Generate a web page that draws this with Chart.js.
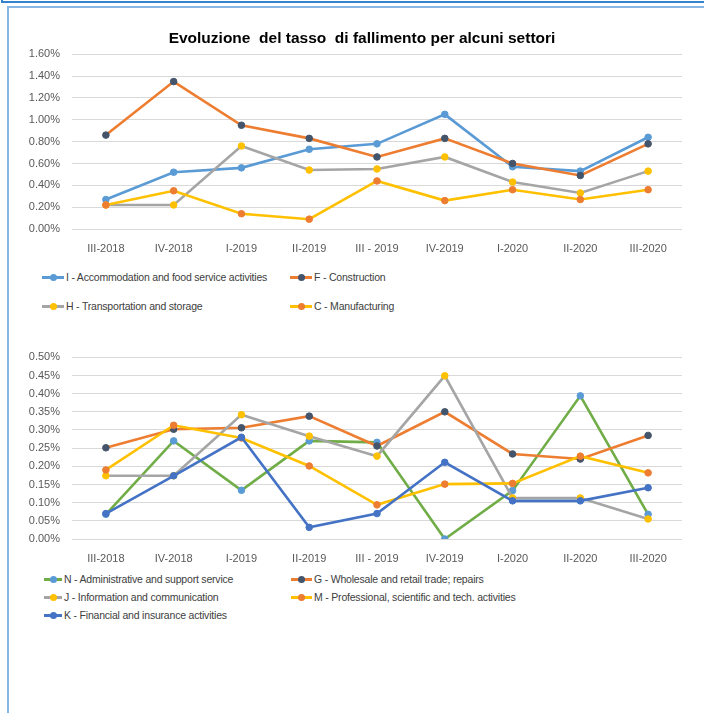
<!DOCTYPE html>
<html>
<head>
<meta charset="utf-8">
<script src="https://cdn.jsdelivr.net/npm/chart.js@4.4.1/dist/chart.umd.min.js"></script>
<style>
  body { margin: 0; width: 704px; height: 713px; overflow: hidden; position: relative; background: #fff;
         font-family: "Liberation Sans", Arial, sans-serif; }
  .outer { position: absolute; left: 1px; top: -20px; width: 800px; height: 21px;
           border-left: 2px solid #3583cc; border-bottom: 2px solid #3583cc; }
  .inner { position: absolute; left: 7px; top: 6px; width: 800px; height: 800px;
           border-left: 2px solid #86b6e3; border-top: 2px solid #86b6e3; }
  canvas { position: absolute; left: 0; }
  .title { position: absolute; left: 162px; width: 400px; top: 28px; text-align: center;
           font-size: 15.5px; font-weight: bold; color: #000; white-space: pre; line-height: 20px; }
  .legend { position: absolute; left: 0; top: 0; width: 704px; }
  .item { position: absolute; height: 14px; font-size: 10.5px; letter-spacing: -0.2px; color: #404040;
          white-space: nowrap; line-height: 14px; }
  .sw { position: absolute; left: 0; top: 6px; height: 3px; }
  .dot { position: absolute; top: 4px; width: 7px; height: 7px; border-radius: 50%; }
</style>
</head>
<body>
<div class="outer"></div>
<div class="inner"></div>
<canvas id="topChart" width="704" height="262" style="top:0"></canvas>
<canvas id="bottomChart" width="704" height="240" style="top:330px"></canvas>
<div class="title">Evoluzione  del tasso  di fallimento per alcuni settori</div>
<div class="legend" id="topLegend"></div>
<div class="legend" id="bottomLegend"></div>
<script>
// ---- data (percent values) ----
const quarters = ['III-2018', 'IV-2018', 'I-2019', 'II-2019', 'III - 2019', 'IV-2019', 'I-2020', 'II-2020', 'III-2020'];

const accommodation = [0.27, 0.52, 0.56, 0.73, 0.78, 1.05, 0.57, 0.53, 0.84];
const construction  = [0.86, 1.35, 0.95, 0.83, 0.66, 0.83, 0.60, 0.49, 0.78];
const transport     = [0.22, 0.22, 0.76, 0.54, 0.55, 0.66, 0.43, 0.33, 0.53];
const manufacturing = [0.22, 0.35, 0.14, 0.09, 0.44, 0.26, 0.36, 0.27, 0.36];

const administrative = [0.068, 0.270, 0.134, 0.270, 0.266, 0.000, 0.133, 0.394, 0.068];
const wholesale      = [0.251, 0.302, 0.306, 0.338, 0.256, 0.350, 0.234, 0.220, 0.285];
const information    = [0.174, 0.174, 0.342, 0.283, 0.228, 0.449, 0.113, 0.113, 0.055];
const professional   = [0.190, 0.313, 0.278, 0.201, 0.094, 0.151, 0.153, 0.228, 0.182];
const financial      = [0.070, 0.174, 0.280, 0.032, 0.070, 0.211, 0.105, 0.105, 0.141];

const FONT = '"Liberation Sans", Arial, sans-serif';

const topSeries = [
  { label: 'I - Accommodation and food service activities', data: accommodation, line: '#5b9bd5', mark: '#5b9bd5' },
  { label: 'F - Construction', data: construction, line: '#ed7d31', mark: '#44546a' },
  { label: 'H - Transportation and storage', data: transport, line: '#a5a5a5', mark: '#ffc000' },
  { label: 'C - Manufacturing', data: manufacturing, line: '#ffc000', mark: '#ed7d31' }
];

const bottomSeries = [
  { label: 'N - Administrative and support service', data: administrative, line: '#70ad47', mark: '#5b9bd5' },
  { label: 'G - Wholesale and retail trade; repairs', data: wholesale, line: '#ed7d31', mark: '#44546a' },
  { label: 'J - Information and communication', data: information, line: '#a5a5a5', mark: '#ffc000' },
  { label: 'M - Professional, scientific and tech. activities', data: professional, line: '#ffc000', mark: '#ed7d31' },
  { label: 'K - Financial and insurance activities', data: financial, line: '#4472c4', mark: '#4472c4' }
];

function makeChart(id, series, yMax, yStep, padTop, axisH) {
  const datasets = series.map((s, i) => ({
    label: s.label,
    data: s.data,
    borderColor: s.line,
    backgroundColor: s.mark,
    pointBackgroundColor: s.mark,
    pointBorderColor: s.mark,
    borderWidth: 2.6,
    pointRadius: 3.3,
    pointBorderWidth: 1,
    tension: 0,
    order: series.length - i   // later series on top, like the original
  }));

  return new Chart(document.getElementById(id), {
    type: 'line',
    data: { labels: quarters, datasets: datasets },
    options: {
      responsive: false,
      animation: false,
      devicePixelRatio: 1,
      layout: { autoPadding: false, padding: { left: 0, right: 22, top: padTop, bottom: 0 } },
      scales: {
        x: {
          offset: true,
          grid: { display: false },
          border: { display: false },
          ticks: { color: '#595959', font: { family: FONT, size: 11 }, padding: 5, maxRotation: 0, autoSkip: false },
          afterFit: s => { s.height = axisH; }
        },
        y: {
          min: 0,
          max: yMax,
          grid: { color: '#d9d9d9', drawTicks: false },
          border: { display: false },
          ticks: {
            stepSize: yStep,
            color: '#595959',
            padding: 12,
            font: { family: FONT, size: 11 },
            callback: v => v.toFixed(2) + '%'
          },
          afterFit: s => { s.width = 72; }
        }
      },
      plugins: {
        legend: { display: false },
        tooltip: { enabled: false },
        title: { display: false }
      }
    }
  });
}

makeChart('topChart', topSeries, 1.6, 0.2, 54.3, 33);
makeChart('bottomChart', bottomSeries, 0.5, 0.05, 27.3, 31);

// HTML legends laid out in two columns like the original
function buildLegend(boxId, series, spots) {
  const box = document.getElementById(boxId);
  series.forEach((s, i) => {
    const p = spots[i];
    const item = document.createElement('div');
    item.className = 'item';
    item.style.left = p.x + 'px';
    item.style.top = (p.y - 7) + 'px';
    item.style.paddingLeft = (p.w + 2) + 'px';
    item.innerHTML = '<span class="sw" style="width:' + p.w + 'px;background:' + s.line + '"></span>' +
      '<span class="dot" style="left:' + (p.w / 2 - 3.5) + 'px;background:' + s.mark + '"></span>' + s.label;
    box.appendChild(item);
  });
}

buildLegend('topLegend', topSeries, [
  { x: 42, y: 277, w: 22 }, { x: 290, y: 277, w: 22 },
  { x: 42, y: 306, w: 22 }, { x: 290, y: 306, w: 22 }
]);
buildLegend('bottomLegend', bottomSeries, [
  { x: 44, y: 579, w: 18 }, { x: 291, y: 579, w: 21 },
  { x: 44, y: 597, w: 18 }, { x: 291, y: 597, w: 21 },
  { x: 44, y: 615, w: 18 }
]);
</script>
</body>
</html>
